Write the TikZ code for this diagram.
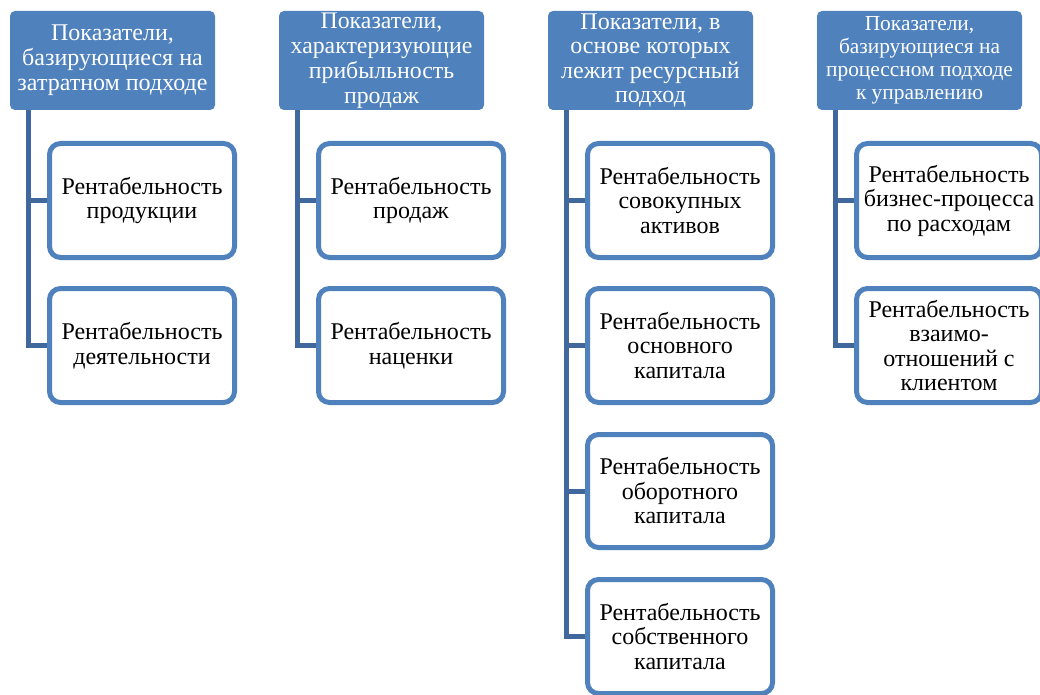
\documentclass[tikz,border=0pt]{standalone}
\usepackage{fontspec}
\setmainfont{Liberation Serif}
\usetikzlibrary{backgrounds}
\definecolor{headblue}{HTML}{4F81BD}
\definecolor{linkblue}{HTML}{41689C}
\tikzset{
  head/.style={rectangle, rounded corners=5pt, fill=headblue, draw=none,
    text=white, align=center, minimum width=205pt, minimum height=99pt,
    inner sep=0pt, outer sep=0pt, font=\fontsize{24}{25}\selectfont},
  item/.style={rectangle, rounded corners=11pt, fill=white, draw=headblue,
    line width=5pt, text=black, align=center, minimum width=185pt,
    inner sep=0pt, outer sep=0pt, font=\fontsize{24}{24.5}\selectfont},
  link/.style={draw=linkblue, line width=5pt}
}
\begin{document}
\begin{tikzpicture}[x=1pt,y=-1pt]
\useasboundingbox (0,0) rectangle (1040,695);

% column headers
\node[head] (h1) at (112.5,60.5) {Показатели,\\базирующиеся на\\затратном подходе};
\node[head, font=\fontsize{23.8}{25}\selectfont] (h2) at (381.5,60.5)
  {Показатели,\\характеризующие\\прибыльность\\продаж};
\node[head, font=\fontsize{24}{24.5}\selectfont] (h3) at (650.5,60.5)
  {Показатели, в\\основе которых\\лежит ресурсный\\подход};
\node[head, font=\fontsize{21.4}{23}\selectfont] (h4) at (919.5,60.5)
  {Показатели,\\базирующиеся на\\процессном подходе\\к управлению};

% first column
\node[item, minimum height=114pt] (a1) at (142,200.5) {Рентабельность\\продукции};
\node[item, minimum height=114pt] (a2) at (142,345.5) {Рентабельность\\деятельности};

% second column
\node[item, minimum height=114pt] (b1) at (411,200.5) {Рентабельность\\продаж};
\node[item, minimum height=114pt] (b2) at (411,345.5) {Рентабельность\\наценки};

% third column
\node[item, minimum height=114pt] (c1) at (680,200.5) {Рентабельность\\совокупных\\активов};
\node[item, minimum height=114pt] (c2) at (680,345.5) {Рентабельность\\основного\\капитала};
\node[item, minimum height=113pt] (c3) at (680,491) {Рентабельность\\оборотного\\капитала};
\node[item, minimum height=114pt] (c4) at (680,636.5) {Рентабельность\\собственного\\капитала};

% fourth column
\node[item, minimum height=114pt] (d1) at (949,200.5) {Рентабельность\\бизнес-процесса\\по расходам};
\node[item, minimum height=114pt] (d2) at (949,345.5) {Рентабельность\\взаимо-\\отношений с\\клиентом};

% connectors behind the boxes
\begin{scope}[on background layer]
\fill[white] (0,0) rectangle (1040,695);
\draw[link] ([xshift=18.5pt]h1.south west) |- (a1.west);
\draw[link] ([xshift=18.5pt]h1.south west) |- (a2.west);
\draw[link] ([xshift=18.5pt]h2.south west) |- (b1.west);
\draw[link] ([xshift=18.5pt]h2.south west) |- (b2.west);
\draw[link] ([xshift=18.5pt]h3.south west) |- (c1.west);
\draw[link] ([xshift=18.5pt]h3.south west) |- (c2.west);
\draw[link] ([xshift=18.5pt]h3.south west) |- (c3.west);
\draw[link] ([xshift=18.5pt]h3.south west) |- (c4.west);
\draw[link] ([xshift=18.5pt]h4.south west) |- (d1.west);
\draw[link] ([xshift=18.5pt]h4.south west) |- (d2.west);
\end{scope}
\end{tikzpicture}
\end{document}
